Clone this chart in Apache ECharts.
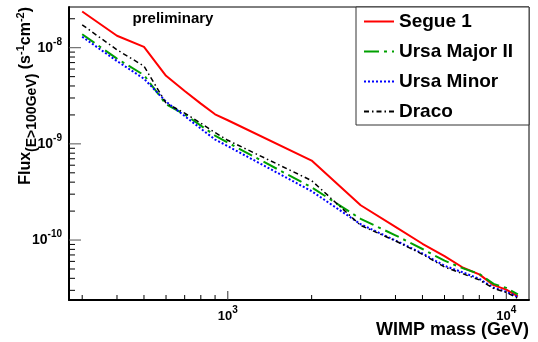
<!DOCTYPE html>
<html><head><meta charset="utf-8">
<script src="https://cdn.jsdelivr.net/npm/echarts@6/dist/echarts.min.js"></script>
<style>html,body{margin:0;padding:0;background:#fff}#c{width:538px;height:342px}</style>
</head><body><div id="c"></div>
<script>
const masses = [300,400,500,600,700,800,900,1000,2000,3000,4000,5000,6000,7000,8000,9000,10000,11000];
const segue1 = [2.38e-8,1.33e-8,1.02e-8,5.1e-9,3.55e-9,2.62e-9,2.03e-9,1.76e-9,6.7e-10,2.3e-10,1.37e-10,9.15e-11,6.8e-11,5.15e-11,4.4e-11,3.4e-11,3.05e-11,2.6e-11];
const ursaMajorII = [1.38e-8,7.7e-9,5.19e-9,2.58e-9,2.03e-9,1.55e-9,1.22e-9,1.03e-9,3.53e-10,1.66e-10,1.12e-10,8.07e-11,6.1e-11,5.07e-11,4.45e-11,3.5e-11,3.18e-11,2.72e-11];
const ursaMinor = [1.30e-8,7.26e-9,4.76e-9,2.75e-9,1.95e-9,1.44e-9,1.11e-9,9.46e-10,3.22e-10,1.46e-10,9.9e-11,7.25e-11,5.4e-11,4.6e-11,3.95e-11,3.2e-11,2.9e-11,2.55e-11];
const draco = [1.73e-8,9.5e-9,6.44e-9,2.65e-9,2.09e-9,1.64e-9,1.31e-9,1.09e-9,4.15e-10,1.42e-10,9.8e-11,7.1e-11,5.25e-11,4.45e-11,3.85e-11,3.15e-11,2.85e-11,2.48e-11];
const seriesNames = ['Segue 1','Ursa Major II','Ursa Minor','Draco'];
const xMajorTicks = [1000,10000];
const xMinorTicks = [300,400,500,600,700,800,900,2000,3000,4000,5000,6000,7000,8000,9000];
const yMajorTicks = [1e-10,1e-9,1e-8];
const yMinorTicks = [3e-11,4e-11,5e-11,6e-11,7e-11,8e-11,9e-11,2e-10,3e-10,4e-10,5e-10,6e-10,7e-10,8e-10,9e-10,2e-9,3e-9,4e-9,5e-9,6e-9,7e-9,8e-9,9e-9,2e-8];
const X_MIN = 269, X_MAX = 12065, Y_MIN = 2.38e-11, Y_MAX = 2.65e-8;

const FONT = "'Liberation Sans', Arial, Helvetica, sans-serif";
const chart = echarts.init(document.getElementById('c'));

function pairs(vals){ return masses.map((m,i)=>[m, vals[i]]); }
function powLabel(v){
  const e = Math.round(Math.log10(v));
  if (Math.abs(Math.log10(v) - e) > 1e-6) return '';
  return '{b|10}{s|' + e + '}';
}
function tickSeries(data, kind, len, color){
  return {
    type:'custom', silent:true, z:5, clip:false, legendHoverLink:false,
    data: data, encode:{x:0,y:1},
    renderItem: function(params, api){
      const p = api.coord([api.value(0), api.value(1)]);
      const shape = kind === 'x'
        ? {x1:p[0], y1:p[1], x2:p[0], y2:p[1]-len}
        : {x1:p[0], y1:p[1], x2:p[0]+len, y2:p[1]};
      return {type:'line', shape:shape, style:{stroke:color, lineWidth:1}};
    }
  };
}

const option = {
  animation:false,
  backgroundColor:'#fff',
  textStyle:{fontFamily:FONT},
  grid:{left:69, right:9, top:7, bottom:42, show:true, borderColor:'#000', borderWidth:1, containLabel:false, outerBoundsMode:'none'},
  xAxis:{
    type:'log', logBase:10, min:X_MIN, max:X_MAX,
    axisLine:{show:true, lineStyle:{color:'#000', width:2}},
    axisTick:{show:false}, splitLine:{show:false}, minorTick:{show:false},
    axisLabel:{
      margin:5, showMinLabel:false, showMaxLabel:false,
      formatter: powLabel,
      rich:{
        b:{fontSize:13, fontWeight:'bold', color:'#000', fontFamily:FONT},
        s:{fontSize:10, fontWeight:'bold', color:'#000', fontFamily:FONT, padding:[0,0,12,0]}
      }
    }
  },
  yAxis:{
    type:'log', logBase:10, min:Y_MIN, max:Y_MAX,
    axisLine:{show:true, lineStyle:{color:'#000', width:2}},
    axisTick:{show:false}, splitLine:{show:false}, minorTick:{show:false},
    axisLabel:{
      margin:7, showMinLabel:false, showMaxLabel:false,
      formatter: powLabel,
      rich:{
        b:{fontSize:14, fontWeight:'bold', color:'#000', fontFamily:FONT},
        s:{fontSize:10, fontWeight:'bold', color:'#000', fontFamily:FONT, padding:[0,0,11,0]}
      }
    }
  },
  legend:{
    data:seriesNames, orient:'vertical', left:356, top:7,
    padding:[5,16,4,7], itemGap:11, itemWidth:30, itemHeight:14,
    backgroundColor:'#fff', borderColor:'#333', borderWidth:1, borderRadius:0,
    itemStyle:{opacity:0},
    textStyle:{fontSize:19, fontWeight:'bold', color:'#000', fontFamily:FONT},
    selectedMode:false
  },
  graphic:[
    {type:'text', x:173, y:19, z:100, style:{text:'preliminary', fontSize:15, fontWeight:'bold', fontFamily:FONT, fill:'#000', align:'center', verticalAlign:'middle'}},
    {type:'text', x:529, y:330, z:100, style:{text:'WIMP mass (GeV)', fontSize:18, fontWeight:'bold', fontFamily:FONT, fill:'#000', align:'right', verticalAlign:'middle'}},
    {type:'text', x:26, y:7, rotation:Math.PI/2, z:100, style:{
      text:'{m|Flux}{sub|(E>100GeV)}{m| (s}{sup|-1}{m|cm}{sup|-2}{m|)}',
      align:'right', verticalAlign:'middle',
      rich:{
        m:{fontSize:16, fontWeight:'bold', fontFamily:FONT, fill:'#000'},
        sub:{fontSize:14, fontWeight:'bold', fontFamily:FONT, fill:'#000', padding:[12,0,0,0]},
        sup:{fontSize:11, fontWeight:'bold', fontFamily:FONT, fill:'#000', padding:[0,0,10,0]}
      }
    }}
  ],
  series:[
    {name:seriesNames[0], type:'line', data:pairs(segue1), symbol:'none', z:3, lineStyle:{color:'#ff0000', width:2, type:'solid'}, itemStyle:{color:'#ff0000'}},
    {name:seriesNames[1], type:'line', data:pairs(ursaMajorII), symbol:'none', z:3, lineStyle:{color:'#00a000', width:2, type:[15,5,3,5]}, itemStyle:{color:'#00a000'}},
    {name:seriesNames[2], type:'line', data:pairs(ursaMinor), symbol:'none', z:3, lineStyle:{color:'#0000ff', width:2, type:[2,2]}, itemStyle:{color:'#0000ff'}},
    {name:seriesNames[3], type:'line', data:pairs(draco), symbol:'none', z:3, lineStyle:{color:'#000000', width:1.5, type:[5,3,1.5,3]}, itemStyle:{color:'#000000'}},
    tickSeries(xMajorTicks.map(v=>[v, Y_MIN]), 'x', 9, '#333'),
    tickSeries(xMinorTicks.map(v=>[v, Y_MIN]), 'x', 5, '#000'),
    tickSeries(yMajorTicks.map(v=>[X_MIN, v]), 'y', 12, '#555'),
    tickSeries(yMinorTicks.map(v=>[X_MIN, v]), 'y', 6, '#000')
  ]
};
chart.setOption(option);
</script>
</body></html>
